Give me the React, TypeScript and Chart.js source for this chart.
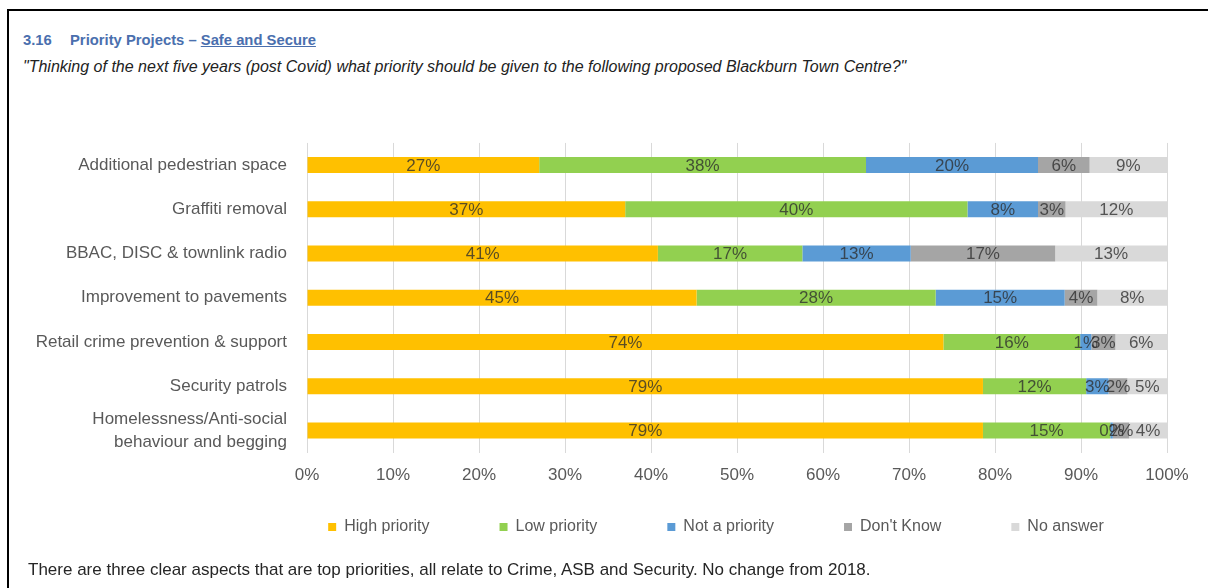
import React, { useEffect, useRef } from 'react';
import { Chart, registerables } from 'chart.js';

Chart.register(...registerables);

// ---- data ----
const categories: (string | string[])[] = [
  'Additional pedestrian space',
  'Graffiti removal',
  'BBAC, DISC & townlink radio',
  'Improvement to pavements',
  'Retail crime prevention & support',
  'Security patrols',
  ['Homelessness/Anti-social', 'behaviour and begging'],
];
const highPriority = [27, 37, 40.8, 45.3, 74, 78.6, 78.6];
const lowPriority = [38, 39.8, 16.8, 27.8, 15.9, 12.0, 14.8];
const notAPriority = [20, 8.2, 12.6, 15.0, 1.3, 2.6, 0.3];
const dontKnow = [6, 3.2, 16.8, 3.8, 2.8, 2.2, 1.9];
const noAnswer = [9, 11.8, 13.0, 8.1, 6.0, 4.6, 4.4];
const seriesNames = ['High priority', 'Low priority', 'Not a priority', "Don't Know", 'No answer'];
const seriesColors = ['#FFC000', '#92D050', '#5B9BD5', '#A5A5A5', '#D9D9D9'];
const seriesValues = [highPriority, lowPriority, notAPriority, dontKnow, noAnswer];

const FONT = '"Liberation Sans", Arial, sans-serif';
const CANVAS_TOP = 100;
const CANVAS_W = 1208;
const CANVAS_H = 495;

const barLabels = {
  id: 'barLabels',
  afterDatasetsDraw(chart: any) {
    const ctx = chart.ctx;
    ctx.save();
    ctx.font = `17px ${FONT}`;
    ctx.textAlign = 'center';
    ctx.textBaseline = 'middle';
    ctx.fillStyle = 'rgba(45,45,45,0.78)';
    chart.data.datasets.forEach((ds: any, di: number) => {
      const meta = chart.getDatasetMeta(di);
      meta.data.forEach((bar: any, i: number) => {
        const v = ds.data[i];
        const { x, y, base } = bar.getProps(['x', 'y', 'base'], true);
        ctx.fillText(Math.round(v) + '%', (x + base) / 2, y + 1);
      });
    });
    ctx.restore();
  },
};

const legendPlacer = {
  id: 'legendPlacer',
  beforeDraw(chart: any) {
    const lg = chart.legend;
    if (!lg) return;
    const pad = lg.options.labels.padding;
    const itemH = lg.options.labels.font.size;
    const h = lg.bottom - lg.top;
    const top = 527 - CANVAS_TOP - pad - itemH / 2;
    lg.top = top;
    lg.bottom = top + h;
    lg.left = 716 - 600;
    lg.right = 716 + 600;
  },
};

function StackedChart() {
  const ref = useRef<HTMLCanvasElement>(null);
  useEffect(() => {
    if (!ref.current) return;
    const chart = new Chart(ref.current, {
      type: 'bar',
      data: {
        labels: categories as any,
        datasets: seriesNames.map((name, i) => ({
          label: name,
          data: seriesValues[i],
          backgroundColor: seriesColors[i],
          borderWidth: 0,
          barPercentage: 0.36,
          categoryPercentage: 1,
        })),
      },
      options: {
        indexAxis: 'y',
        responsive: false,
        animation: false,
        layout: { padding: { top: 16, right: 41, left: 0, bottom: 0 } },
        scales: {
          x: {
            stacked: true,
            min: 0,
            max: 100,
            border: { display: false },
            grid: { color: '#d9d9d9', drawTicks: false, lineWidth: 1 },
            ticks: {
              stepSize: 10,
              padding: 13,
              color: '#595959',
              font: { family: FONT, size: 17 },
              callback: (v: any) => v + '%',
            },
          },
          y: {
            stacked: true,
            border: { display: false },
            grid: { display: false, drawTicks: false },
            ticks: {
              autoSkip: false,
              padding: 20,
              color: '#595959',
              font: { family: FONT, size: 17, lineHeight: 1.35 },
            },
            afterFit: (scale: any) => {
              scale.width = 307;
            },
          },
        },
        plugins: {
          legend: {
            position: 'bottom',
            labels: {
              boxWidth: 8,
              boxHeight: 8,
              padding: 70,
              color: '#595959',
              font: { family: FONT, size: 16 },
            },
          },
          tooltip: { enabled: false },
        },
      },
      plugins: [barLabels, legendPlacer],
    });
    return () => chart.destroy();
  }, []);
  return (
    <canvas
      ref={ref}
      width={CANVAS_W}
      height={CANVAS_H}
      style={{ position: 'absolute', left: 0, top: CANVAS_TOP, width: CANVAS_W, height: CANVAS_H }}
    />
  );
}

export default function App() {
  return (
    <div
      style={{
        position: 'fixed',
        left: 0,
        top: 0,
        width: 1208,
        height: 588,
        overflow: 'hidden',
        background: '#fff',
        fontFamily: FONT,
      }}
    >
      <div
        style={{
          position: 'absolute',
          left: 7,
          top: 9,
          right: -10,
          bottom: -10,
          borderTop: '2px solid #000',
          borderLeft: '2px solid #000',
        }}
      />
      <StackedChart />
      <div style={{ position: 'absolute', left: 23, top: 30, lineHeight: '20px', fontSize: 14.8, fontWeight: 'bold', color: '#4a6fae', whiteSpace: 'nowrap' }}>
        3.16
      </div>
      <div style={{ position: 'absolute', left: 70, top: 30, lineHeight: '20px', fontSize: 14.8, fontWeight: 'bold', color: '#4a6fae', whiteSpace: 'nowrap' }}>
        Priority Projects – <span style={{ textDecoration: 'underline' }}>Safe and Secure</span>
      </div>
      <div style={{ position: 'absolute', left: 23, top: 57, lineHeight: '20px', fontSize: 16, fontStyle: 'italic', color: '#222', whiteSpace: 'nowrap' }}>
        "Thinking of the next five years (post Covid) what priority should be given to the following proposed Blackburn Town Centre?"
      </div>
      <div style={{ position: 'absolute', left: 28, top: 560, lineHeight: '20px', fontSize: 17, color: '#262626', whiteSpace: 'nowrap' }}>
        There are three clear aspects that are top priorities, all relate to Crime, ASB and Security. No change from 2018.
      </div>
    </div>
  );
}
